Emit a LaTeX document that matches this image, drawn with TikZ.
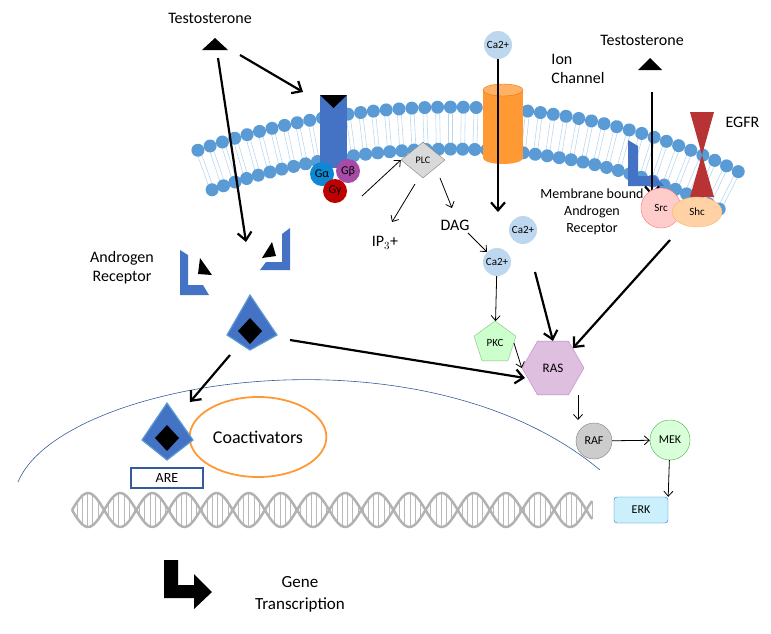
\documentclass[tikz,border=0pt]{standalone}
\usepackage{fontspec}
\setmainfont{Carlito}
\usetikzlibrary{arrows.meta,shapes.geometric,decorations.markings}
\definecolor{mblue}{HTML}{5B9BD5}
\definecolor{rblue}{HTML}{4472C4}
\definecolor{lblue}{HTML}{BDD7EE}
\tikzset{
 big/.style={line width=2.2pt,-{Straight Barb[length=8pt,width=14pt]}},
 thin/.style={line width=0.8pt,-{Straight Barb[length=5pt,width=9pt]}},
 ca/.style={circle,fill=lblue,minimum size=28pt,inner sep=0pt,font=\fontsize{11}{12}\selectfont},
 lbl/.style={font=\fontsize{16}{19}\selectfont,align=center},
 sm/.style={font=\fontsize{12}{13}\selectfont},
 kite/.style={fill=rblue,draw=mblue,line width=1.2pt}
}
\begin{document}
\begin{tikzpicture}[x=1pt,y=-1pt]
\useasboundingbox (0,0) rectangle (771,633);
% membrane
\path[decorate,decoration={markings,
  mark=between positions 0 and 1 step 12.5pt with {
   \draw[lblue,line width=0.6pt] (-2,-20)--(-2,20) (2,-20)--(2,20);
   \fill[mblue] (0,-21) circle (6.5) (0,21) circle (6.5);}}]
 (205,170) .. controls (350,118) and (560,103) .. (732,192);
% testosterone left
\node[lbl] (t1) at (210,18) {Testosterone};
\fill (215,38)--(228,50)--(202,50)--cycle;
\coordinate (t1a) at (240,55); \coordinate (t1b) at (218,58);
% GPCR
\fill[rblue] (320,95) rectangle (347,168);
\fill[black] (320,95)--(347,95)--(333.5,108)--cycle;
\node[circle,fill=cyan!70!blue,minimum size=24pt,inner sep=0pt,sm] (ga) at (322,174) {Gα};
\node[circle,fill=violet!70,minimum size=24pt,inner sep=0pt,sm] (gb) at (348,171) {Gβ};
\node[circle,fill=red!75!black,minimum size=24pt,inner sep=0pt,sm] (gg) at (335,191) {Gγ};
\coordinate (gpcr) at (303,92);
\draw[big] (t1a) -- (gpcr);
% PLC
\node[diamond,fill=gray!30,draw=gray,minimum width=44pt,minimum height=36pt,inner sep=0pt,font=\fontsize{10}{11}\selectfont] (plc) at (423,160) {PLC};
\draw[thin] (362,196) -- (plc.west);
\node[lbl] (ip3) at (385,243) {IP$_3$+};
\node[lbl] (dag) at (455,225) {DAG};
\draw[thin] (415,184) -- (392,222);
\draw[thin] (440,178) -- (452,208);
% ion channel
\fill[orange!80] (483,90) rectangle (523,158);
\fill[orange!80] (503,158) ellipse (20 and 6);
\fill[orange!60] (503,90) ellipse (20 and 6);
\draw[orange!90!black] (503,90) ellipse (20 and 6);
\node[lbl,align=left] (ion) at (578,69) {Ion\\Channel};
\node[ca] (ca0) at (498,45) {Ca2+};
\node[ca] (ca1) at (523,230) {Ca2+};
\node[ca] (ca2) at (497,262) {Ca2+};
\coordinate (cain) at (498,212);
\draw[big] (ca0) -- (cain);
\draw[thin] (dag.east) ++(-5,8) -- (ca2.north west);
% right testosterone
\node[lbl] (t2) at (642,40) {Testosterone};
\fill (650,58)--(662,70)--(638,70)--cycle;
\coordinate (t2a) at (652,92); \coordinate (t2b) at (652,196);
% membrane AR
\fill[rblue] (628,140)--(638,146)--(638,176)--(655,176)--(664,186)--(628,186)--cycle;
\draw[big] (t2a) -- (t2b);
% EGFR
\fill[red!65!black!80] (690,112)--(714,112)--(702,155)--cycle;
\fill[red!65!black!80] (690,197)--(714,197)--(702,155)--cycle;
\node[lbl,anchor=west] (egfr) at (722,122) {EGFR};
\node[circle,fill=pink!80,draw=pink!60!red,minimum size=40pt,inner sep=0pt,font=\fontsize{11}{12}\selectfont] (src) at (661,208) {Src};
\node[ellipse,fill=orange!35,draw=orange!60,minimum width=50pt,minimum height=30pt,inner sep=0pt,font=\fontsize{11}{12}\selectfont] (shc) at (697,212) {Shc};
\node[font=\fontsize{14}{17}\selectfont,align=center] (mbar) at (592,212) {Membrane bound\\Androgen\\Receptor};
% androgen receptor cytoplasm
\node[lbl] (arl) at (122,268) {Androgen\\Receptor};
\fill[rblue] (180,250)--(188,255)--(188,285)--(203,285)--(209,295)--(180,295)--cycle;
\fill (200,258)--(212,275)--(198,274)--cycle;
\fill[rblue] (290,228)--(282,234)--(282,262)--(266,262)--(260,270)--(290,270)--cycle;
\fill (272,242)--(262,258)--(276,256)--cycle;
\coordinate (arin) at (246,242);
\draw[big] (t1b) -- (arin);
% AR complex
\draw[kite] (250,295)--(277,335)--(250,350)--(227,335)--cycle;
\fill (250,318)--(262,331)--(250,344)--(238,331)--cycle;
\coordinate (arc1) at (290,340); \coordinate (arc2) at (230,355);
% nucleus
\draw[rblue!80!black,line width=0.6pt] (18,482) .. controls (60,380) and (420,320) .. (600,470);
\node[ellipse,draw=orange!80,line width=1.8pt,minimum width=128pt,minimum height=80pt,font=\fontsize{18}{20}\selectfont] (coa) at (258,437) {Coactivators};
\draw[kite] (167,403)--(193,440)--(167,460)--(142,440)--cycle;
\fill (167,425)--(179,438)--(167,451)--(155,438)--cycle;
\coordinate (arn) at (190,402);
\draw[big] (arc2) -- (arn);
\node[draw=rblue!80!black,fill=white,line width=1.5pt,minimum width=72pt,minimum height=20pt,inner sep=0pt,font=\fontsize{14}{15}\selectfont] (are) at (167,478) {ARE};
% DNA
\foreach \i in {0,...,100}{\draw[gray!55,line width=1pt] ({72+\i*5.2},{510+17*sin(\i*5.2*5.6)}) -- ({72+\i*5.2},{510-17*sin(\i*5.2*5.6)});}
\draw[gray!60,line width=2.5pt,domain=72:592,samples=200] plot (\x,{510+17*sin((\x-72)*5.6)});
\draw[gray!60,line width=2.5pt,domain=72:592,samples=200] plot (\x,{510-17*sin((\x-72)*5.6)});
% gene transcription
\fill (164,560)--(178,560)--(178,585)--(194,585)--(194,574)--(212,592)--(194,609)--(194,598)--(164,598)--cycle;
\node[font=\fontsize{17}{22}\selectfont,align=center] (gene) at (300,594) {Gene\\Transcription};
% PKC, RAS, RAF, MEK, ERK
\node[regular polygon,regular polygon sides=5,fill=green!20,draw=green!50!black!50,minimum size=44pt,inner sep=0pt,font=\fontsize{11}{12}\selectfont] (pkc) at (495,343) {PKC};
\draw[thin] (ca2) -- (pkc);
\node[regular polygon,regular polygon sides=6,fill=violet!25,draw=violet!50,minimum size=62pt,inner sep=0pt,font=\fontsize{13}{14}\selectfont] (ras) at (553,368) {RAS};
\draw[thin] (pkc.east) -- (ras.west);
\coordinate (ras1) at (525,378);
\draw[big] (arc1) -- (ras1);
\draw[big] (535,272) -- (ras.north);
\draw[big] (670,240) -- (ras.north east);
\node[circle,fill=gray!40,draw=gray,minimum size=36pt,inner sep=0pt,font=\fontsize{12}{13}\selectfont] (raf) at (594,441) {RAF};
\node[circle,fill=green!15,draw=green!40!gray,minimum size=40pt,inner sep=0pt,font=\fontsize{12}{13}\selectfont] (mek) at (670,440) {MEK};
\node[rounded corners=3pt,fill=cyan!20,draw=cyan!60!blue,minimum width=54pt,minimum height=26pt,inner sep=0pt,font=\fontsize{12}{13}\selectfont] (erk) at (641,510) {ERK};
\draw[thin] (578,395) -- (578,420);
\draw[thin] (raf) -- (mek);
\draw[thin] (mek) -- (erk.north east);
\end{tikzpicture}
\end{document}
